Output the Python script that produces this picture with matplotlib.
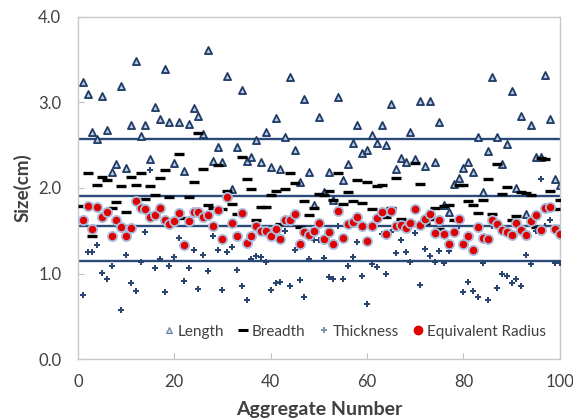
import matplotlib
matplotlib.use('Agg')
import matplotlib.pyplot as plt
from matplotlib.lines import Line2D


# Aggregate numbers 1..100
aggregate = list(range(1, 101))

# Values (cm)
length = [3.24, 3.10, 2.65, 2.57, 3.08, 2.68, 2.19, 2.28, 3.19, 2.23,
          2.74, 3.48, 2.61, 2.74, 2.34, 2.95, 2.80, 3.39, 2.77, 2.29,
          2.77, 2.20, 2.75, 2.93, 2.84, 2.63, 3.61, 2.32, 2.48, 2.30,
          3.31, 1.99, 2.48, 3.14, 2.32, 2.36, 2.56, 2.30, 2.65, 2.25,
          2.82, 2.22, 2.60, 3.30, 2.44, 2.07, 3.04, 2.19, 1.80, 2.83,
          1.95, 2.19, 1.86, 3.06, 2.09, 2.28, 2.52, 2.73, 2.41, 2.44,
          2.62, 2.52, 2.73, 2.50, 2.98, 2.22, 2.35, 2.30, 2.65, 2.34,
          3.02, 2.26, 3.02, 2.30, 2.77, 1.80, 1.72, 2.05, 2.12, 2.23,
          2.30, 2.19, 2.60, 1.95, 2.43, 3.30, 2.59, 2.28, 2.51, 3.13,
          2.00, 2.84, 1.69, 2.74, 2.36, 2.36, 3.32, 2.81, 2.11, 2.04]

breadth = [1.79, 2.17, 1.44, 2.03, 2.13, 2.09, 1.77, 1.84, 2.02, 1.72,
           2.13, 2.03, 2.17, 1.87, 2.02, 1.92, 2.12, 2.21, 1.90, 1.62,
           2.40, 1.65, 1.89, 2.07, 2.64, 2.22, 1.80, 1.77, 2.27, 1.75,
           1.97, 1.81, 1.69, 2.36, 2.10, 1.99, 1.62, 1.78, 1.78, 1.92,
           1.97, 1.58, 1.99, 2.17, 2.06, 1.54, 1.85, 1.68, 1.77, 1.93,
           1.92, 1.96, 1.86, 2.18, 1.81, 1.95, 1.85, 2.09, 1.82, 2.07,
           1.75, 2.02, 2.04, 1.66, 1.76, 2.12, 1.64, 1.57, 1.60, 2.29,
           2.05, 1.59, 1.64, 1.77, 1.52, 1.79, 1.80, 1.63, 2.03, 2.04,
           1.85, 1.80, 1.71, 1.86, 2.11, 1.70, 2.28, 1.93, 2.01, 1.63,
           1.67, 1.95, 1.94, 1.92, 1.54, 2.35, 2.34, 1.96, 1.75, 1.86]

thickness = [0.75, 1.25, 1.25, 1.33, 1.01, 0.94, 1.09, 1.62, 0.57, 1.22,
             0.89, 0.80, 1.14, 1.48, 2.21, 1.07, 1.17, 0.78, 1.09, 1.19,
             1.41, 0.91, 1.06, 1.28, 0.82, 1.22, 1.03, 1.44, 1.27, 0.81,
             1.25, 1.31, 1.04, 0.86, 0.69, 1.17, 1.20, 1.19, 1.13, 0.81,
             0.89, 0.90, 1.50, 0.85, 1.28, 0.93, 0.72, 1.17, 1.39, 1.39,
             1.18, 0.96, 0.94, 1.55, 0.94, 1.09, 1.19, 1.37, 0.97, 0.64,
             1.11, 1.08, 1.46, 1.00, 1.48, 1.24, 1.39, 1.25, 1.14, 1.47,
             0.87, 1.29, 1.20, 1.13, 1.26, 1.12, 1.26, 1.50, 1.55, 0.78,
             0.90, 0.80, 0.72, 1.12, 0.69, 1.55, 0.83, 0.99, 0.97, 0.89,
             0.94, 0.85, 1.22, 1.11, 1.50, 2.11, 1.55, 1.63, 1.12, 1.12]

equivalent_radius = [1.62, 1.79, 1.52, 1.78, 1.66, 1.72, 1.44, 1.63, 1.54, 1.44,
                     1.53, 1.85, 1.77, 1.75, 1.66, 1.68, 1.76, 1.63, 1.58, 1.61,
                     1.71, 1.33, 1.61, 1.72, 1.72, 1.66, 1.68, 1.55, 1.74, 1.40,
                     1.89, 1.59, 1.44, 1.71, 1.36, 1.44, 1.56, 1.50, 1.50, 1.44,
                     1.52, 1.40, 1.62, 1.63, 1.69, 1.34, 1.48, 1.45, 1.50, 1.59,
                     1.40, 1.48, 1.34, 1.73, 1.42, 1.58, 1.60, 1.66, 1.55, 1.38,
                     1.55, 1.65, 1.72, 1.46, 1.73, 1.56, 1.57, 1.53, 1.59, 1.75,
                     1.57, 1.64, 1.70, 1.47, 1.62, 1.46, 1.35, 1.48, 1.64, 1.35,
                     1.44, 1.27, 1.54, 1.41, 1.40, 1.62, 1.58, 1.51, 1.49, 1.45,
                     1.59, 1.51, 1.45, 1.61, 1.68, 1.51, 1.76, 1.78, 1.52, 1.46]

# Horizontal reference lines (average sizes)
average_lines = [2.57, 1.91, 1.56, 1.15]

x_ticks = [0, 20, 40, 60, 80, 100]
y_ticks = [0.0, 1.0, 2.0, 3.0, 4.0]

navy = '#1f3a64'
text_color = '#404040'

plt.rcParams['font.family'] = ['Lato', 'DejaVu Sans']

fig = plt.figure(figsize=(5.73, 4.2), dpi=100)
ax = fig.add_axes([0.136, 0.145, 0.841, 0.815])

# Average lines behind the points
for value in average_lines:
    ax.axhline(value, color='#2b4a78', linewidth=1.7, zorder=1)

ax.scatter(aggregate, length, marker='^', s=26, facecolor='#b8cbe8',
           edgecolor=navy, linewidths=1.3, zorder=2)
ax.scatter(aggregate, breadth, marker='_', s=42, color='black',
           linewidths=2.4, zorder=3)
ax.scatter(aggregate, thickness, marker='P', s=16, color='#2a4670',
           linewidths=0, zorder=3)
ax.scatter(aggregate, equivalent_radius, marker='o', s=44, facecolor='#e00000',
           edgecolor='#a9bcdc', linewidths=1.3, zorder=4)

ax.set_xlim(0, 100)
ax.set_ylim(0, 4)
ax.set_xticks(x_ticks)
ax.set_yticks(y_ticks)
ax.set_yticklabels(['%.1f' % v for v in y_ticks])

for spine in ax.spines.values():
    spine.set_color('#c8c8c8')
    spine.set_linewidth(1.0)

ax.tick_params(direction='in', length=4, color='#c0c0c0', labelsize=12,
               labelcolor=text_color)
ax.tick_params(axis='x', pad=11)
ax.tick_params(axis='y', pad=12)

ax.set_xlabel('Aggregate Number', fontsize=14, fontweight='bold',
              color=text_color, labelpad=8)
ax.set_ylabel('Size(cm)', fontsize=13.5, fontweight='bold',
              color=text_color, labelpad=5)

# Legend inside the plot, one row
handles = [
    Line2D([], [], linestyle='none', marker='^', markersize=5,
           markerfacecolor='#c6d6ee', markeredgecolor='#6a7f9e', markeredgewidth=0.8),
    Line2D([], [], linestyle='none', marker='_', markersize=7,
           color='black', markeredgewidth=2.2),
    Line2D([], [], linestyle='none', marker='P', markersize=4,
           color='#7f93b5', markeredgewidth=0),
    Line2D([], [], linestyle='none', marker='o', markersize=6,
           markerfacecolor='#e00000', markeredgecolor='#e00000'),
]
labels = ['Length', 'Breadth', 'Thickness', 'Equivalent Radius']
ax.legend(handles, labels, loc='lower center', bbox_to_anchor=(0.575, 0.02),
          ncol=4, frameon=False, fontsize=11, handlelength=0.6,
          handletextpad=0.3, columnspacing=0.9, labelcolor=text_color)

fig.savefig('out.png', dpi=100)
